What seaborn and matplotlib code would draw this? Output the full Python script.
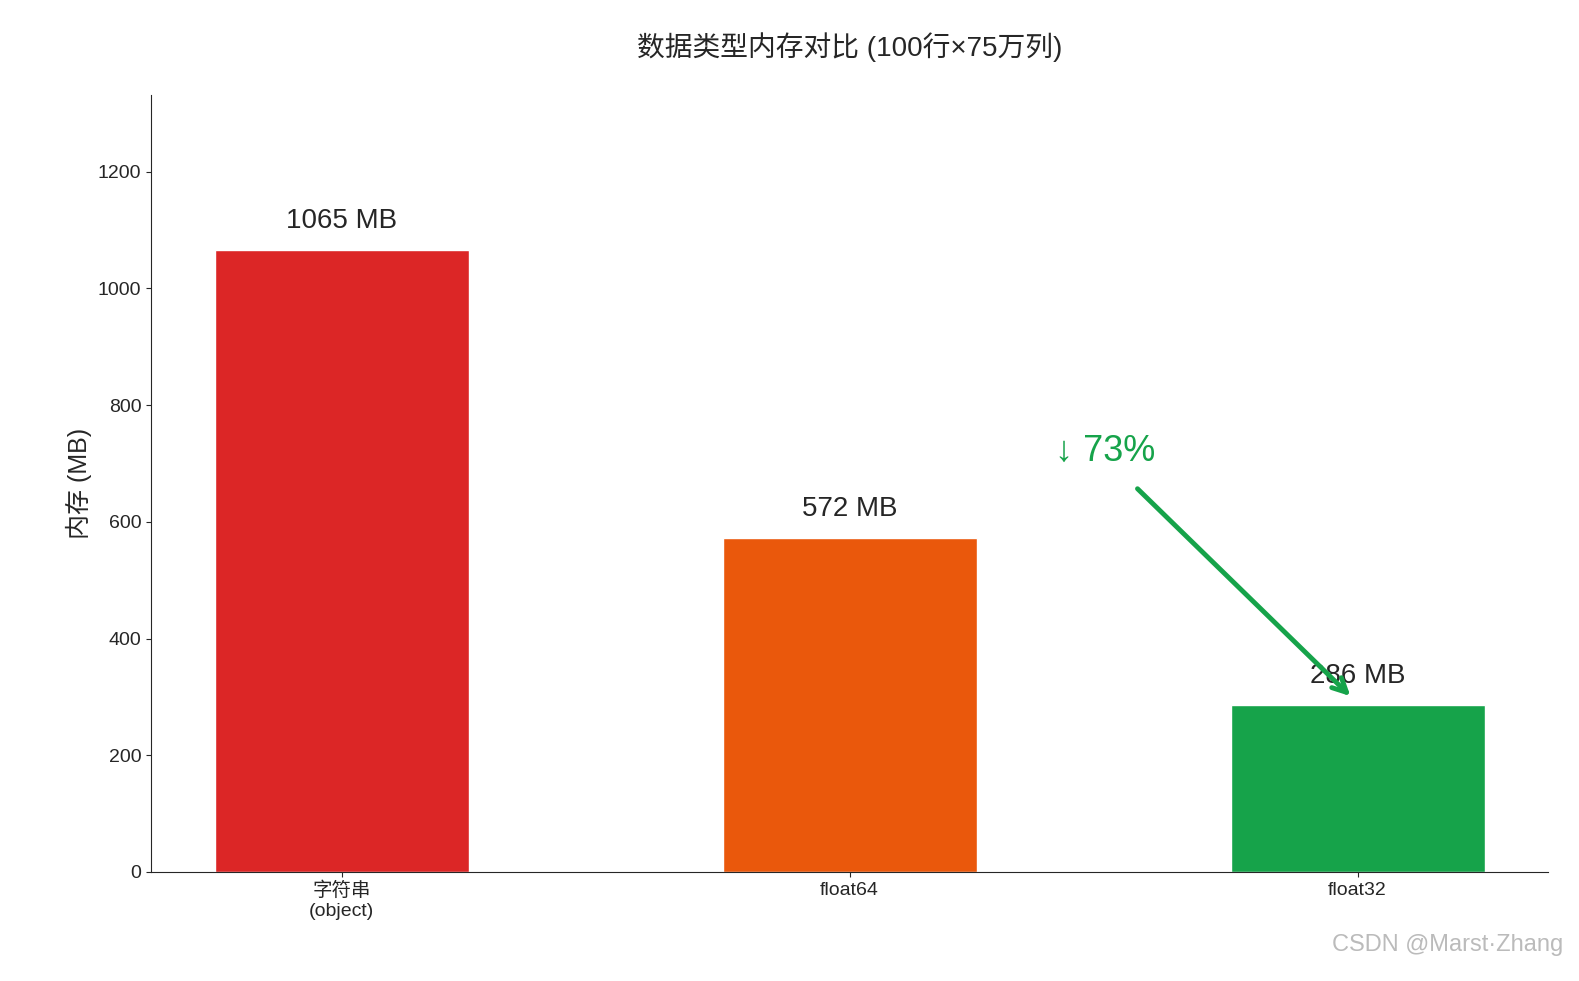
import matplotlib
matplotlib.use("Agg")
import matplotlib.pyplot as plt
import seaborn as sns
import pandas as pd

categories = ["字符串\n(object)", "float64", "float32"]
memory_mb = [1065, 572, 286]
colors = ["#dc2626", "#ea580c", "#16a34a"]

sns.set_style("ticks")
plt.rcParams['font.family'] = ['Liberation Sans', 'Noto Sans CJK SC', 'DejaVu Sans']

fig = plt.figure(figsize=(15.79, 9.81), dpi=100)
ax = fig.add_axes([151/1579, 1-872/981, (1548-151)/1579, (872-95)/981])
df = pd.DataFrame({"cat": categories, "mem": memory_mb})
sns.barplot(data=df, x="cat", y="mem", hue="cat", palette=colors, width=0.5,
            legend=False, ax=ax, saturation=1)
ax.set_xlim(-0.375, 2.375)
ax.set_ylim(0, max(memory_mb) * 1.25)
for i, v in enumerate(memory_mb):
    ax.text(i, v + 28, f"{v} MB", ha="center", va="bottom", fontsize=20)
ax.annotate("", xy=(1.99, 298), xytext=(1.563, 660),
            arrowprops=dict(arrowstyle="->", color="#16a34a", lw=3.5, mutation_scale=25))
pct = round((1 - memory_mb[2] / memory_mb[0]) * 100)
ax.text(1.504, 720, f"↓ {pct}%", ha="center", va="center", fontsize=26,
        color="#16a34a", family=['DejaVu Sans'] if False else ['Liberation Sans', 'DejaVu Sans'])
ax.set_title("数据类型内存对比 (100行×75万列)", fontsize=20, pad=28)
ax.set_ylabel("内存 (MB)", fontsize=18)
ax.set_xlabel("")
ax.tick_params(labelsize=14)
sns.despine(ax=ax)
fig.text(0.99, 0.025, "CSDN @Marst·Zhang", ha="right", va="bottom", fontsize=17,
         color="#bbbbbb")
fig.savefig("out.png", dpi=100)
